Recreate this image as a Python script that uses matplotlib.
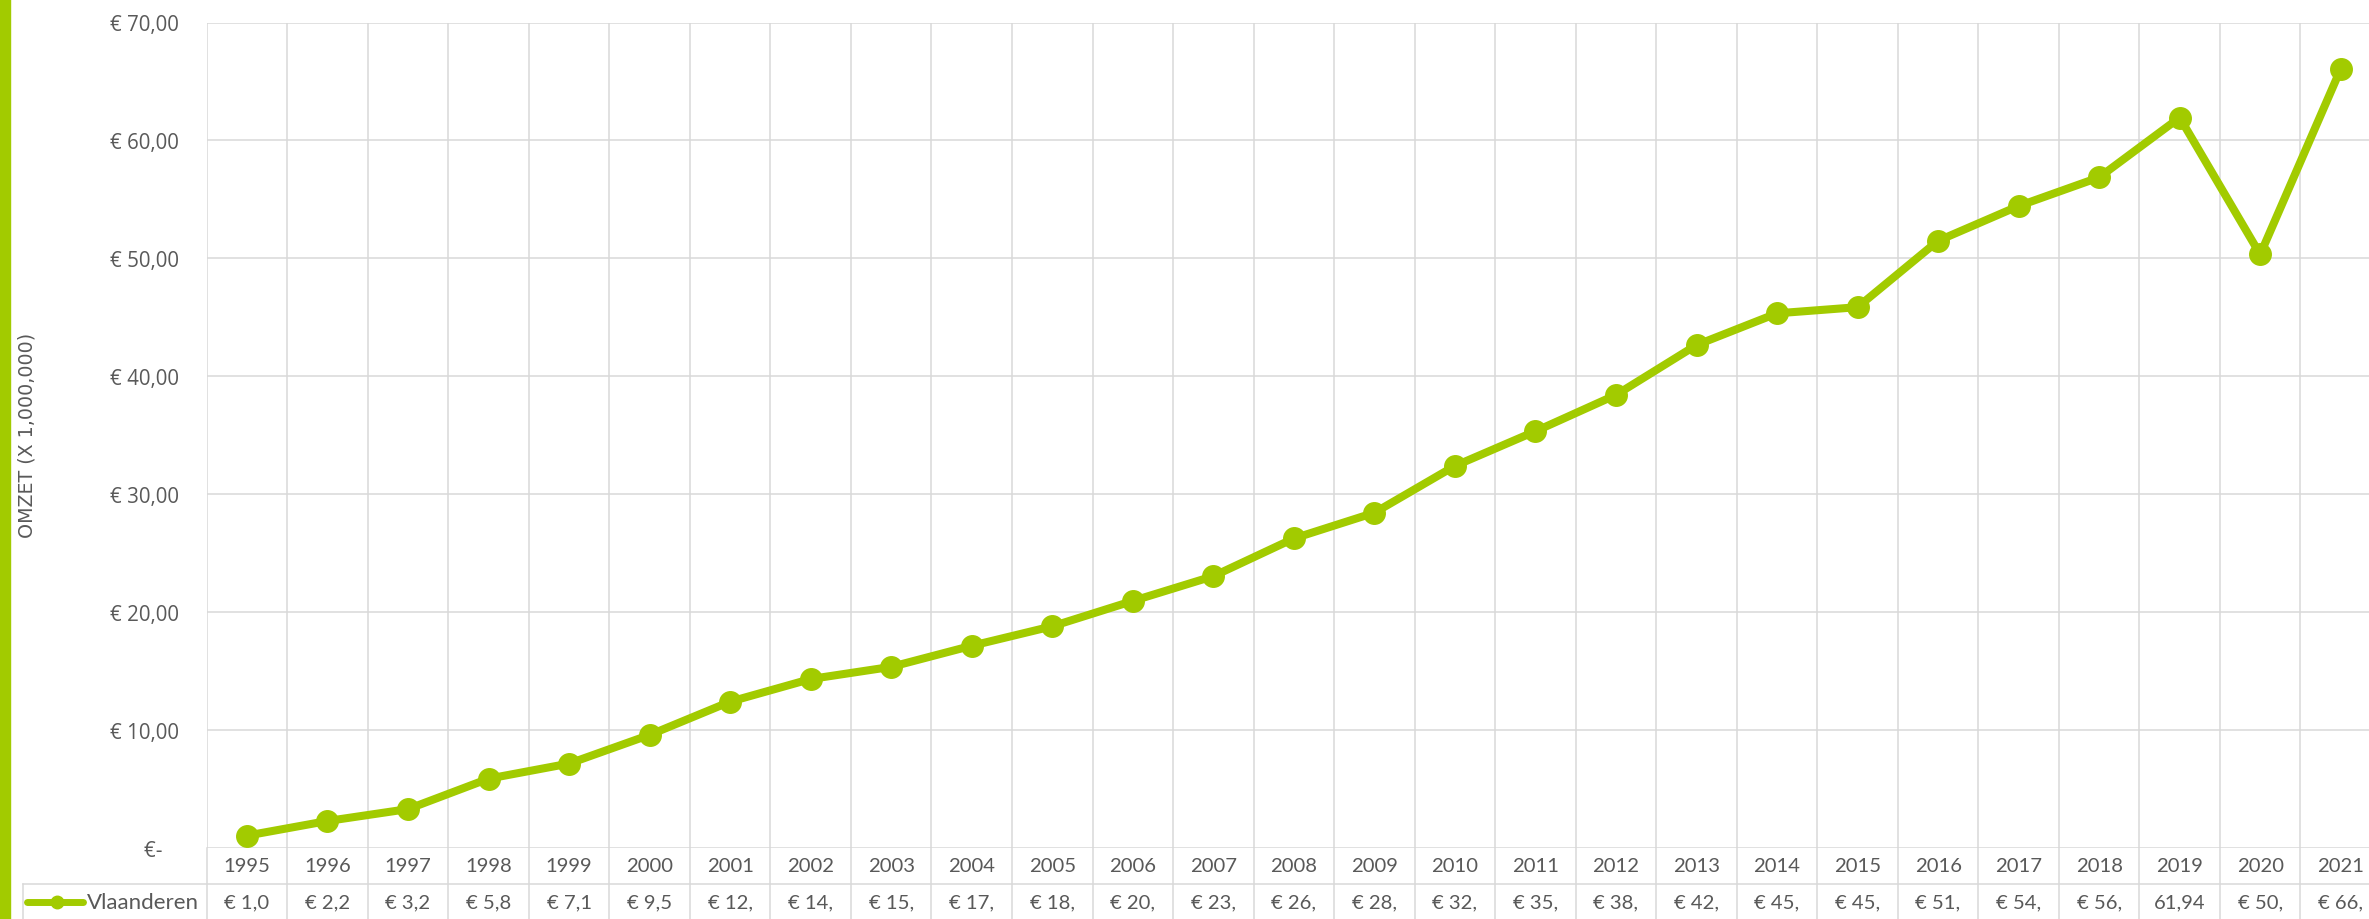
import numpy as np
import matplotlib
matplotlib.use('Agg')
from matplotlib import pyplot as plt
from matplotlib import transforms
from matplotlib.lines import Line2D

years = list(range(1995, 2022))
omzet = [1.05, 2.29, 3.3, 5.88, 7.16, 9.59, 12.41, 14.33, 15.36, 17.15,
         18.8, 20.95, 23.05, 26.25, 28.43, 32.4, 35.34, 38.42, 42.65, 45.34,
         45.86, 51.49, 54.44, 56.87, 61.94, 50.33, 66.06]
cell_labels = ['€ 1,0', '€ 2,2', '€ 3,2', '€ 5,8', '€ 7,1', '€ 9,5', '€ 12,',
               '€ 14,', '€ 15,', '€ 17,', '€ 18,', '€ 20,', '€ 23,', '€ 26,',
               '€ 28,', '€ 32,', '€ 35,', '€ 38,', '€ 42,', '€ 45,', '€ 45,',
               '€ 51,', '€ 54,', '€ 56,', '61,94', '€ 50,', '€ 66,']
y_ticks = [0, 10, 20, 30, 40, 50, 60, 70]
y_labels = ['€-   ', '€ 10,00', '€ 20,00', '€ 30,00', '€ 40,00',
            '€ 50,00', '€ 60,00', '€ 70,00']
series_name = 'Vlaanderen'

green = '#A2CB00'
grid = '#D9D9D9'
grey = '#595959'

W, H = 2369, 920
fig = plt.figure(figsize=(W / 100, H / 100), dpi=100)

# plot area in pixels
left_px, top_px, zero_px = 206.7, 23.5, 849.0
col_w = 80.53
ax = fig.add_axes([left_px / W, 1 - zero_px / H,
                   len(years) * col_w / W, (zero_px - top_px) / H])

x = np.arange(len(years))
ax.plot(x, omzet, color=green, lw=5.8, marker='o', markersize=15.5,
        solid_capstyle='round', zorder=3, clip_on=False)

ax.set_xlim(-0.5, len(years) - 0.5)
ax.set_ylim(0, 70)
ax.set_yticks(y_ticks)
ax.set_yticklabels(y_labels, fontfamily='Open Sans', fontsize=14.8, color=grey)
ax.set_xticks([])
ax.tick_params(axis='y', length=0, pad=20)
for s in ax.spines.values():
    s.set_visible(False)

# gridlines
for k in range(len(years) + 1):
    ax.axvline(k - 0.5, color=grid, lw=1.1, zorder=1)
for yv in y_ticks:
    ax.axhline(yv, color=grid, lw=1.1, zorder=1)

# data table below the plot
row_h = 36.0 / (zero_px - top_px)
bt = transforms.blended_transform_factory(ax.transData, ax.transAxes)
for k in range(len(years) + 1):
    ax.add_line(Line2D([k - 0.5, k - 0.5], [0, -3 * row_h], color=grid,
                       lw=1.1, transform=bt, clip_on=False))
legend_left = -0.5 - (left_px - 22.7) / col_w
ax.add_line(Line2D([legend_left, len(years)], [-row_h, -row_h], color=grid,
                   lw=1.1, transform=bt, clip_on=False))
ax.add_line(Line2D([legend_left, legend_left], [-row_h, -3 * row_h], color=grid,
                   lw=1.1, transform=bt, clip_on=False))

for i, (yr, lab) in enumerate(zip(years, cell_labels)):
    ax.text(i, -row_h / 2, str(yr), transform=bt, ha='center', va='center',
            fontfamily='Lato', fontsize=14.6, color=grey, clip_on=False)
    ax.text(i, -1.5 * row_h, lab, transform=bt, ha='center', va='center',
            fontfamily='Lato', fontsize=14.6, color=grey, clip_on=False)

# legend key inside the table
key_y = 1 - 903 / H
fig.add_artist(Line2D([27 / W, 83 / W], [key_y, key_y], color=green, lw=5,
                      solid_capstyle='round', transform=fig.transFigure))
fig.add_artist(Line2D([57 / W], [key_y], color=green, marker='o',
                      markersize=9, transform=fig.transFigure))
fig.text(87 / W, key_y, series_name, ha='left', va='center',
         fontfamily='Lato', fontsize=16, color=grey)

# axis title
fig.text(27 / W, 1 - 435.5 / H, 'OMZET (X 1,000,000)', rotation=90,
         ha='center', va='center', fontfamily='DejaVu Sans', fontsize=13.7,
         color=grey)

# green bar on the left edge
fig.add_artist(plt.Rectangle((0, 0), 9.5 / W, 1, color=green,
                             transform=fig.transFigure))

fig.savefig('out.png', dpi=100)
